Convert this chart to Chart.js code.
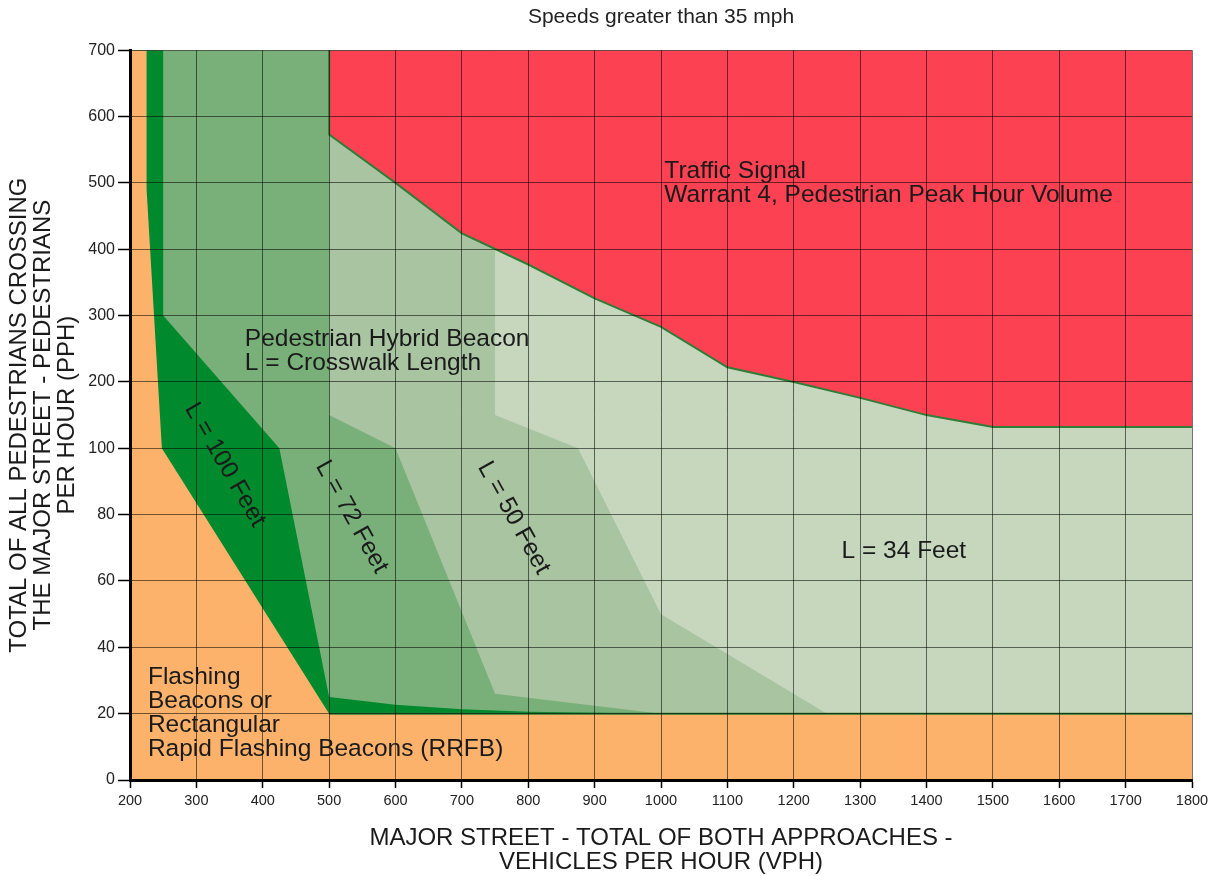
<!DOCTYPE html>
<html>
<head>
<meta charset="utf-8">
<script src="https://cdn.jsdelivr.net/npm/chart.js@4.4.1/dist/chart.umd.min.js"></script>
<style>
  html, body { margin: 0; padding: 0; background: #fff; }
  #wrap { width: 1219px; height: 876px; }
</style>
</head>
<body>
<div id="wrap"><canvas id="chart"></canvas></div>
<script>
// y axis is not linear: 0-100 by 20, then 100-700 by 100, all equally spaced
var yTickValues = [0, 20, 40, 60, 80, 100, 200, 300, 400, 500, 600, 700];
var yTickLabels = ["0", "20", "40", "60", "80", "100", "200", "300", "400", "500", "600", "700"];

// region boundaries, vph / pph
var redVph = [500, 500, 600, 700, 800, 900, 1000, 1100, 1200, 1300, 1400, 1500, 1800];
var redPph = [700, 573, 500, 424, 377, 326, 283, 222, 200, 176, 150, 132, 132];

var orangeVph = [200, 225, 225, 248, 500, 1800];
var orangePph = [700, 700, 490, 100, 20, 20];

var ft100Vph = [200, 250, 250, 425, 500, 600, 700, 800, 1000];
var ft100Pph = [700, 700, 300, 100, 25, 22.7, 21.3, 20.6, 20];

var ft72Vph = [200, 500, 500, 600, 750, 1000];
var ft72Pph = [700, 700, 150, 100, 26, 20];

var ft50Vph = [200, 750, 750, 875, 1000, 1100, 1250];
var ft50Pph = [700, 700, 150, 100, 50, 38, 20];

var ft34Vph = [200, 1800];
var ft34Pph = [0, 0];

var floorVph = [500, 1800];
var floorPph = [20, 20];

function toIdx(v) {
    for (var i = 0; i < yTickValues.length - 1; i++) {
        var a = yTickValues[i], b = yTickValues[i + 1];
        if (v <= b) {
            return i + (v - a) / (b - a);
        }
    }
    return yTickValues.length - 1;
}

function pts(xs, ys) {
    var out = [];
    for (var i = 0; i < xs.length; i++) {
        out.push({x: xs[i], y: toIdx(ys[i])});
    }
    return out;
}

function area(xs, ys, color, fill) {
    return {
        data: pts(xs, ys),
        showLine: true,
        fill: fill,
        backgroundColor: color,
        borderWidth: 0,
        borderColor: 'rgba(0,0,0,0)',
        pointRadius: 0,
        tension: 0
    };
}

// painting order, bottom first
var layers = [
    area(ft34Vph, ft34Pph, '#c6d7be', 'end'),
    area(ft50Vph, ft50Pph, '#a8c4a1', 'start'),
    area(ft72Vph, ft72Pph, '#79b07a', 'start'),
    area(ft100Vph, ft100Pph, '#00892d', 'start'),
    area(orangeVph, orangePph, '#fdb26b', 'start'),
    area(redVph, redPph, '#fb4152', 'end')
];
layers[5].borderWidth = 2;
layers[5].borderColor = '#2f7d36';
layers.push({
    data: pts(floorVph, floorPph),
    showLine: true,
    fill: false,
    borderColor: '#2f7d36',
    borderWidth: 2,
    pointRadius: 0
});
for (var i = 0; i < layers.length; i++) {
    layers[i].order = layers.length - i;
}

var plotLabels = [
    {lines: ["Traffic Signal", "Warrant 4, Pedestrian Peak Hour Volume"], vph: 1005, pph: 518, angle: 0},
    {lines: ["Pedestrian Hybrid Beacon", "L = Crosswalk Length"], vph: 373, pph: 265, angle: 0},
    {lines: ["L = 34 Feet"], vph: 1272, pph: 69, angle: 0},
    {lines: ["Flashing", "Beacons or", "Rectangular", "Rapid Flashing Beacons (RRFB)"], vph: 227, pph: 31, angle: 0},
    {lines: ["L = 100 Feet"], vph: 343, pph: 95, angle: 60},
    {lines: ["L = 72 Feet"], vph: 534, pph: 79.3, angle: 61},
    {lines: ["L = 50 Feet"], vph: 778, pph: 79, angle: 61}
];

var labelPlugin = {
    id: 'plotLabels',
    afterDraw: function (chart) {
        var ctx = chart.ctx;
        var xs = chart.scales.x, ys = chart.scales.y;
        ctx.save();
        ctx.fillStyle = '#1a1a1a';
        ctx.font = '24.5px "Liberation Sans", Arial, sans-serif';
        ctx.textBaseline = 'middle';
        plotLabels.forEach(function (lab) {
            var px = xs.getPixelForValue(lab.vph);
            var py = ys.getPixelForValue(toIdx(lab.pph));
            if (lab.angle) {
                ctx.save();
                ctx.translate(px, py);
                ctx.rotate(lab.angle * Math.PI / 180);
                ctx.textAlign = 'center';
                ctx.fillText(lab.lines[0], 0, 0);
                ctx.restore();
            } else {
                ctx.textAlign = 'left';
                lab.lines.forEach(function (t, k) {
                    ctx.fillText(t, px, py + k * 24);
                });
            }
        });
        ctx.restore();
    }
};

var font = '"Liberation Sans", Arial, sans-serif';

new Chart(document.getElementById('chart'), {
    type: 'scatter',
    data: {datasets: layers},
    options: {
        responsive: true,
        maintainAspectRatio: false,
        animation: false,
        layout: {padding: {left: 0, right: 27, top: 0, bottom: 0}},
        plugins: {
            legend: {display: false},
            tooltip: {enabled: false},
            title: {
                display: true,
                text: 'Speeds greater than 35 mph',
                fullSize: false,
                color: '#222',
                font: {family: font, size: 21, weight: 'normal'},
                padding: {top: 5, bottom: 20}
            }
        },
        scales: {
            x: {
                type: 'linear',
                min: 200,
                max: 1800,
                afterFit: function (s) { s.height = 96; },
                border: {color: '#000', width: 3, z: 2},
                grid: {z: 1, color: 'rgba(0,0,0,0.55)', lineWidth: 1, tickLength: 8, tickColor: '#000', tickWidth: 1.5},
                ticks: {stepSize: 100, autoSkip: false, maxRotation: 0, padding: 4, color: '#222',
                    font: {family: font, size: 14.5},
                    callback: function (v) { return String(v); }},
                title: {
                    display: true,
                    text: ['MAJOR STREET - TOTAL OF BOTH APPROACHES -', 'VEHICLES PER HOUR (VPH)'],
                    color: '#1a1a1a',
                    font: {family: font, size: 24, lineHeight: 1},
                    padding: {top: 16, bottom: 2}
                }
            },
            y: {
                type: 'linear',
                min: 0,
                max: 11,
                afterFit: function (s) { s.width = 130; },
                border: {color: '#000', width: 3, z: 2},
                grid: {z: 1, color: 'rgba(0,0,0,0.55)', lineWidth: 1, tickLength: 12, tickColor: '#000', tickWidth: 1.5},
                ticks: {
                    stepSize: 1,
                    autoSkip: false,
                    padding: 3,
                    color: '#222',
                    font: {family: font, size: 16},
                    callback: function (v) { return yTickLabels[v]; }
                },
                title: {
                    display: true,
                    text: ['TOTAL OF ALL PEDESTRIANS CROSSING', 'THE MAJOR STREET - PEDESTRIANS', 'PER HOUR (PPH)'],
                    color: '#1a1a1a',
                    font: {family: font, size: 24, lineHeight: 1},
                    padding: {top: 7, bottom: 0}
                }
            }
        }
    },
    plugins: [labelPlugin]
});
</script>
</body>
</html>
